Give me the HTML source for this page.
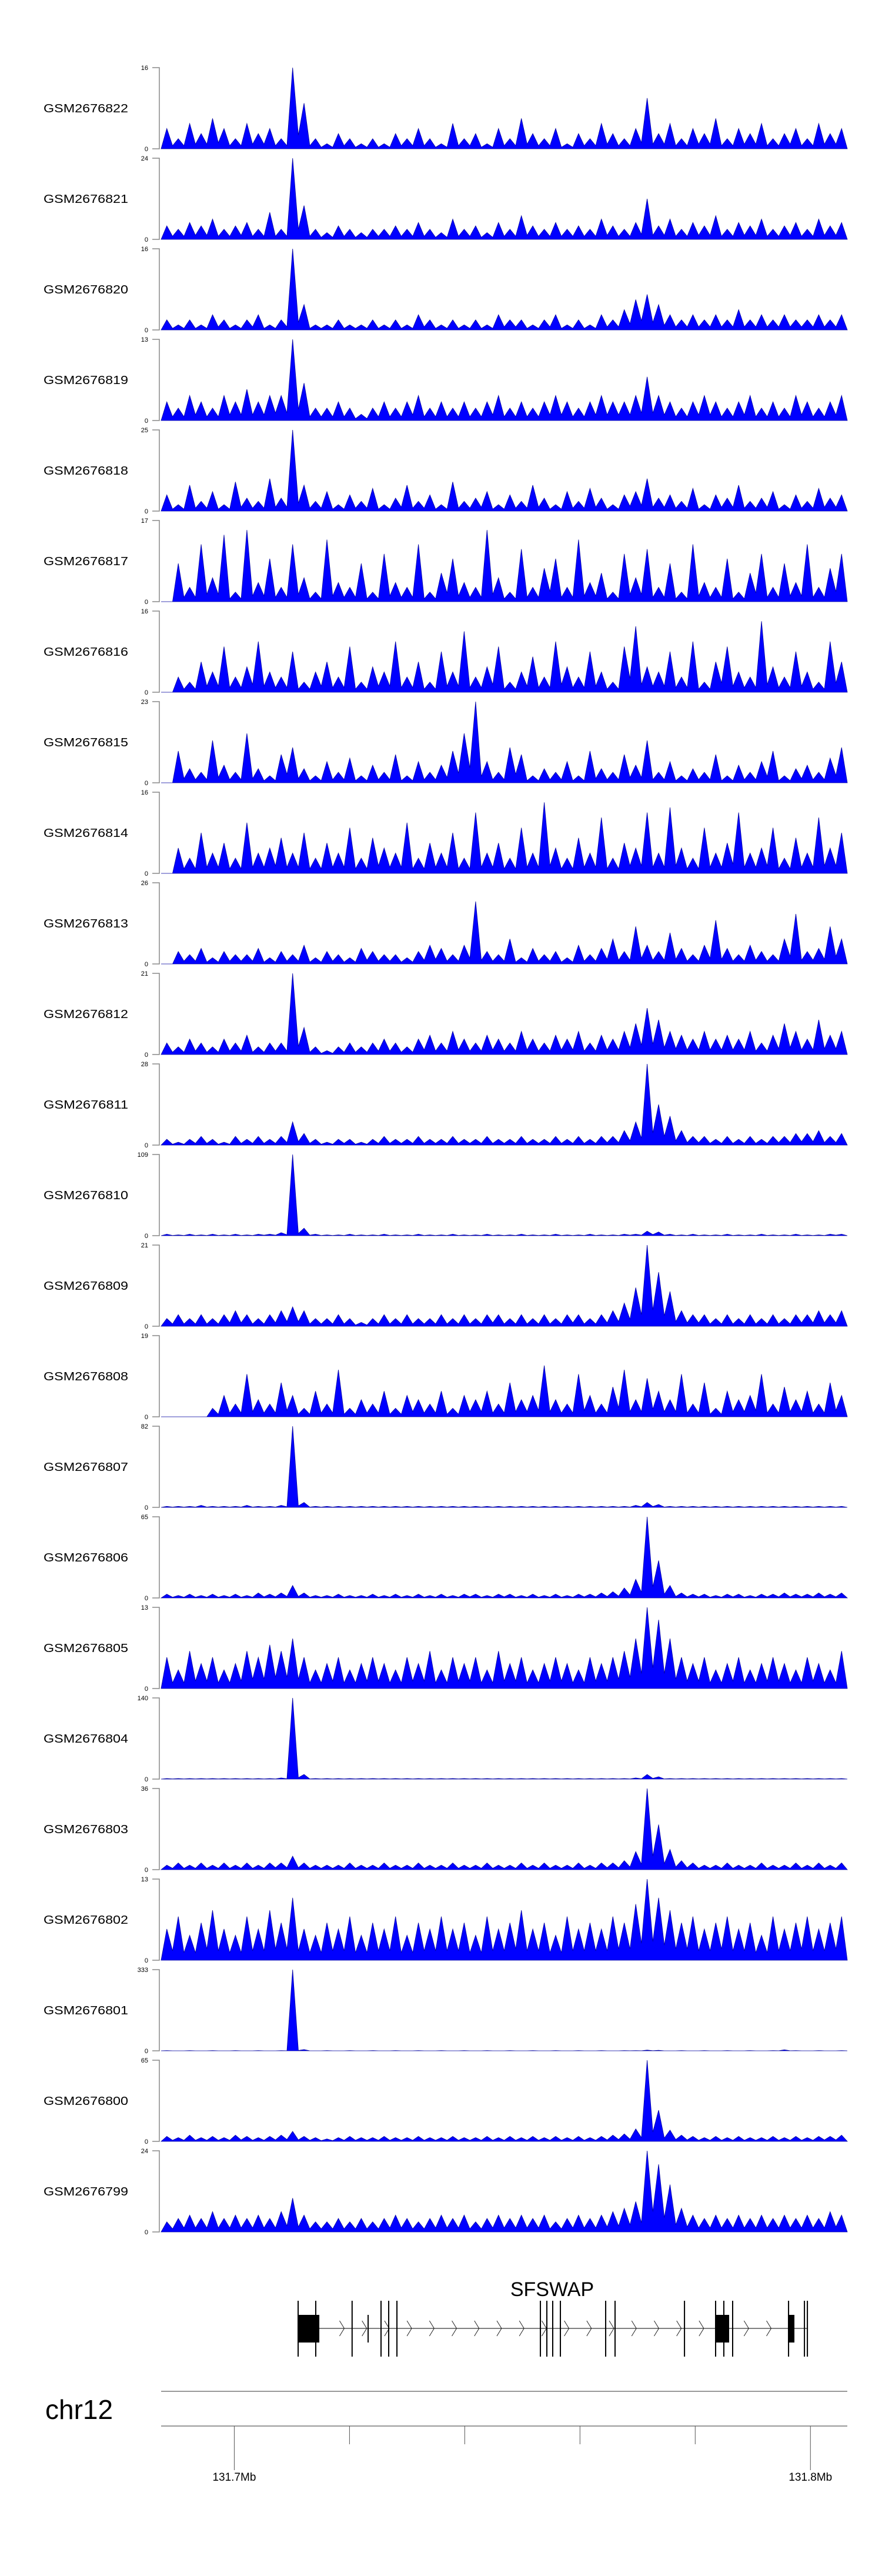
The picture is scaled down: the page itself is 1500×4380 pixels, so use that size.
<!DOCTYPE html>
<html><head><meta charset="utf-8"><style>
html,body{margin:0;padding:0;background:#fff;}
svg{display:block;font-family:"Liberation Sans",Arial,sans-serif;}
</style></head><body>
<svg id="chart" width="1500" height="4380" viewBox="0 0 1500 4380" xmlns="http://www.w3.org/2000/svg">
<g id="tracks"></g>
<g id="gene"></g>
<g id="axis"></g>
</svg>
<script>
const sampleNames = ["GSM2676822","GSM2676821","GSM2676820","GSM2676819","GSM2676818","GSM2676817","GSM2676816","GSM2676815","GSM2676814","GSM2676813","GSM2676812","GSM2676811","GSM2676810","GSM2676809","GSM2676808","GSM2676807","GSM2676806","GSM2676805","GSM2676804","GSM2676803","GSM2676802","GSM2676801","GSM2676800","GSM2676799"];
const yMax = [16,24,16,13,25,17,16,23,16,26,21,28,109,21,19,82,65,13,140,36,13,333,65,24];
const s822=[4,2,5,3,6,4,2,5,3,4,2,16,9,2,1,3,2,1,2,1,3,2,4,2,1,5,2,3,1,4,2,6,3,2,4,1,3,2,5,3,2,4,10,3,5,2,4,3,6,2,4,3,5,2,3,4,2,5,3,4];
const s821=[4,3,5,4,6,3,4,5,3,8,3,24,10,3,2,4,3,2,3,3,4,3,5,3,2,6,3,4,2,5,3,7,4,3,5,3,4,3,6,4,3,5,12,4,6,3,5,4,7,3,5,4,6,3,4,5,3,6,4,5];
const s820=[2,1,2,1,3,2,1,2,3,1,2,16,5,1,1,2,1,1,2,1,2,1,3,2,1,2,1,2,1,3,2,2,1,2,3,1,2,1,3,2,4,6,7,5,3,2,3,2,3,2,4,2,3,2,3,2,2,3,2,3];
const s819=[3,2,4,3,2,4,3,5,3,4,4,13,6,2,2,3,2,1,2,3,2,3,4,2,3,2,3,2,3,4,2,3,2,3,4,3,2,3,4,3,3,4,7,4,3,2,3,4,3,2,3,4,2,3,2,4,3,2,3,4];
const s818=[5,2,8,3,6,2,9,4,3,10,4,25,8,3,6,2,5,3,7,2,4,8,3,5,2,9,3,4,6,2,5,3,8,4,2,6,3,7,4,2,5,6,10,4,5,3,7,2,5,4,8,3,4,6,2,5,3,7,4,5];
const s817=[0,8,3,12,5,14,2,15,4,9,3,12,5,2,13,4,3,8,2,10,4,3,12,2,6,9,4,3,15,5,2,11,3,7,9,3,13,4,6,2,10,5,11,3,8,2,12,4,3,9,2,6,10,3,8,4,12,3,7,10];
const s816=[0,3,2,6,4,9,3,5,10,4,3,8,2,4,6,3,9,2,5,4,10,3,6,2,8,4,12,3,5,9,2,4,7,3,10,5,3,8,4,2,9,13,5,4,8,3,10,2,6,9,4,3,14,5,3,8,4,2,10,6];
const s815=[0,9,4,3,12,5,3,14,4,2,8,10,4,2,6,3,7,2,5,3,8,2,6,3,5,9,14,23,6,3,10,8,2,4,3,6,2,9,4,3,8,5,12,3,6,2,4,3,8,2,5,3,6,9,2,4,5,3,7,10];
const s814=[0,5,3,8,4,6,3,10,4,5,7,4,8,3,6,4,9,3,7,5,4,10,3,6,4,8,3,12,4,6,3,9,4,14,5,3,7,4,11,3,6,5,12,4,13,5,3,9,4,6,12,4,5,9,3,7,4,11,5,8];
const s813=[0,4,3,5,2,4,3,3,5,2,4,3,6,2,4,3,2,5,4,3,3,2,4,6,5,3,6,20,4,3,8,2,5,3,4,2,6,3,5,8,4,12,6,4,10,5,3,6,14,5,3,6,4,3,8,16,4,5,12,8];
const s812=[3,2,4,3,2,4,3,5,2,3,3,21,7,2,1,2,3,2,3,4,3,2,4,5,3,6,4,3,5,4,3,6,4,3,5,4,6,3,5,4,6,8,12,9,6,5,4,6,4,5,4,6,3,5,8,6,4,9,5,6];
const s811=[2,1,2,3,2,1,3,2,3,2,3,8,4,2,1,2,2,1,2,3,2,2,3,2,2,3,2,2,3,2,2,3,2,2,3,2,3,2,3,3,5,8,28,14,10,5,3,3,2,3,2,3,2,3,3,4,4,5,3,4];
const s810=[2,1,2,1,2,1,2,1,2,2,4,109,10,2,1,1,2,1,1,2,1,1,2,1,1,2,1,1,2,1,1,2,1,1,2,1,1,2,1,1,2,2,6,5,2,1,2,1,1,2,1,1,2,1,1,2,1,1,2,2];
const s809=[2,3,2,3,2,3,4,3,2,3,4,5,4,2,2,3,2,1,2,3,2,3,2,2,3,2,3,2,3,3,2,3,2,3,2,3,3,2,3,4,6,10,21,14,9,4,3,3,2,3,2,3,2,3,2,3,3,4,3,4];
const s808=[0,0,0,0,2,5,3,10,4,3,8,5,2,6,3,11,2,4,3,6,2,5,4,3,6,2,5,4,6,3,8,4,5,12,4,3,10,5,3,7,11,4,9,6,4,10,3,8,2,6,4,5,10,3,7,4,6,3,8,5];
const s807=[1,1,1,2,1,1,1,2,1,1,2,82,5,1,1,1,1,1,1,1,1,1,1,1,1,1,1,1,1,1,1,1,1,1,1,1,1,1,1,1,1,2,5,3,1,1,1,1,1,1,1,1,1,1,1,1,1,1,1,1];
const s806=[3,2,3,2,3,2,3,2,4,3,4,10,4,2,2,3,2,2,3,2,3,2,3,2,3,2,3,3,2,3,3,2,3,2,3,2,3,3,4,5,8,15,65,30,10,4,3,3,2,3,3,2,3,3,4,3,3,4,3,4];
const s805=[5,3,6,4,5,3,4,6,5,7,6,8,5,3,4,5,3,4,5,4,3,5,4,6,3,5,4,5,3,6,4,5,3,4,5,4,3,5,4,5,6,8,13,11,8,5,4,5,3,4,5,3,4,5,4,3,5,4,3,6];
const s804=[1,1,1,1,1,1,1,1,1,1,2,140,8,1,1,1,1,1,1,1,1,1,1,1,1,1,1,1,1,1,1,1,1,1,1,1,1,1,1,1,1,2,8,4,1,1,1,1,1,1,1,1,1,1,1,1,1,1,1,1];
const s803=[2,3,2,3,2,3,2,3,2,3,3,6,3,2,2,2,3,2,2,3,2,2,3,2,2,3,2,2,3,2,2,3,2,3,2,2,3,2,3,3,4,8,36,20,9,4,3,2,2,3,2,2,3,2,2,3,2,3,2,3];
const s802=[5,7,4,6,8,5,4,7,5,8,6,10,5,4,6,5,7,4,6,5,7,4,6,5,7,5,6,4,7,5,6,8,5,6,4,7,5,6,5,7,6,9,13,10,8,6,7,5,6,7,5,6,4,7,5,6,7,5,6,7];
const s801=[1,0,1,0,1,0,1,0,1,0,1,333,5,0,1,0,1,0,1,0,1,0,1,0,1,0,1,0,1,0,1,0,1,0,1,0,1,0,1,0,1,1,3,2,0,1,0,1,0,1,0,1,0,1,4,1,0,1,0,1];
const s800=[4,3,5,3,4,3,5,4,3,4,5,8,4,3,2,3,4,3,3,4,3,3,4,3,3,4,3,3,4,3,4,3,4,3,4,3,4,3,4,5,6,10,65,25,9,5,4,3,4,3,4,3,3,4,3,4,3,4,4,5];
const s799=[3,4,5,4,6,4,5,4,5,4,6,10,5,3,3,4,3,4,3,4,5,4,3,4,5,4,5,3,4,5,4,5,4,5,3,4,5,4,5,6,7,9,24,20,14,7,5,4,5,4,5,4,5,4,5,4,5,4,6,5];
const trackValues=[s822,s821,s820,s819,s818,s817,s816,s815,s814,s813,s812,s811,s810,s809,s808,s807,s806,s805,s804,s803,s802,s801,s800,s799];
// genomic coordinates (Mb)
const axisTicks=[131.70,131.72,131.74,131.76,131.78,131.80];
const axisLabels=["131.7Mb","","","","","131.8Mb"];
const exonStarts=[131.71098,131.71414,131.72045,131.72323,131.72547,131.72680,131.72823,131.75313,131.75425,131.75527,131.75660,131.76446,131.76609,131.77814,131.78344,131.78497,131.78650,131.79610,131.79896,131.79947];
const exonWidths=[0.00378,0.00010,0.00010,0.00010,0.00010,0.00010,0.00010,0.00010,0.00010,0.00010,0.00010,0.00010,0.00010,0.00010,0.00245,0.00010,0.00010,0.00112,0.00010,0.00010];
const exonTall=[1,1,1,0,1,1,1,1,1,1,1,1,1,1,1,1,1,1,1,1];

const NS="http://www.w3.org/2000/svg";
const X0=274,X1=1441,G0=131.6873,G1=131.8064;
function gx(g){return X0+(g-G0)/(G1-G0)*(X1-X0);}
function bx(i,n){return X0+(i+0.5)/n*(X1-X0);}
function mk(tag,attrs,parent){const e=document.createElementNS(NS,tag);for(const k in attrs)e.setAttribute(k,attrs[k]);parent.appendChild(e);return e;}
const tg=document.getElementById('tracks');
const TOP=115,PITCH=154,H=138;
trackValues.forEach((vals,t)=>{
  const top=TOP+t*PITCH,zero=top+H,mx=yMax[t];
  const g=mk('g',{},tg);
  
  
  const lab=mk('text',{x:74,y:top+H/2+7,'font-size':20,textLength:144,lengthAdjust:'spacingAndGlyphs',fill:'#000'},g);
  lab.textContent=sampleNames[t];
  
  
  const ax=mk('path',{d:`M259 ${top}H271V${zero}H259`,stroke:'#888',fill:'none','stroke-width':1.5},g);
  
  
  const tt=mk('text',{x:252,y:top+4,'font-size':11,'text-anchor':'end',fill:'#000'},g);
  tt.textContent=String(mx);
  
  
  const tz=mk('text',{x:252,y:zero+4,'font-size':11,'text-anchor':'end',fill:'#000'},g);
  tz.textContent='0';
  
  
  const n=vals.length;
  const yv=v=>(zero-Math.min(v,mx)/mx*H).toFixed(1);
  let d=`M${X0} ${zero}`;
  vals.forEach((v,i)=>{
    d+=`L${bx(i,n).toFixed(1)} ${yv(v)}`;
    if(i<n-1){
      const vm=Math.min(v,vals[i+1])*0.3;
      d+=`L${((bx(i,n)+bx(i+1,n))/2).toFixed(1)} ${yv(vm)}`;
    }
  });
  d+=`L${X1} ${zero}Z`;
  const a=mk('path',{d:d,fill:'#0000ff',stroke:'#0000a0','stroke-width':0.8},g);
  
  
});
// gene model
const gg=document.getElementById('gene');
const gt=mk('text',{x:939,y:3904,'font-size':34,'text-anchor':'middle',fill:'#000'},gg);
gt.textContent='SFSWAP';


const lineY=3959;
const gStart=exonStarts[0],gEnd=exonStarts[exonStarts.length-1]+exonWidths[exonWidths.length-1];
const il=mk('line',{x1:gx(gStart),x2:gx(gEnd),y1:lineY,y2:lineY,stroke:'#000','stroke-width':1},gg);


for(let g=gStart+0.0077;g<gEnd-0.0005;g+=0.0039){
  const x=gx(g);
  const c=mk('path',{d:`M${x-4} ${lineY-13}L${x+4} ${lineY}L${x-4} ${lineY+13}`,stroke:'#222',fill:'none','stroke-width':1},gg);
  
  
}
exonStarts.forEach((s,i)=>{
  const x=gx(s),w=Math.max(2,gx(s+exonWidths[i])-x);
  const tall=exonTall[i];
  if(w>4){
    const r=mk('rect',{x:x,y:3936,width:w,height:47,fill:'#000'},gg);
    
    
    const l1=mk('line',{x1:x+1,x2:x+1,y1:3912,y2:4007,stroke:'#000','stroke-width':2},gg);
    
    
  } else {
    const l=mk('line',{x1:x,x2:x,y1:tall?3912:3936,y2:tall?4007:3983,stroke:'#000','stroke-width':2},gg);
    
    
  }
});
// axis
const ag=document.getElementById('axis');
const chr=mk('text',{x:77,y:4113,'font-size':46,fill:'#000'},ag);
chr.textContent='chr12';


const l1=mk('line',{x1:X0,x2:X1,y1:4066,y2:4066,stroke:'#999','stroke-width':2},ag);


const l2=mk('line',{x1:X0,x2:X1,y1:4125,y2:4125,stroke:'#999','stroke-width':2},ag);


axisTicks.forEach((t,i)=>{
  const x=gx(t);const lab=axisLabels[i];
  const tk=mk('line',{x1:x,x2:x,y1:4125,y2:lab?4200:4156,stroke:'#555','stroke-width':1},ag);
  
  
  if(lab){
    const tx=mk('text',{x:x,y:4218,'font-size':19,'text-anchor':'middle',fill:'#000'},ag);
    tx.textContent=lab;
    
    
  }
});
</script>
</body></html>
